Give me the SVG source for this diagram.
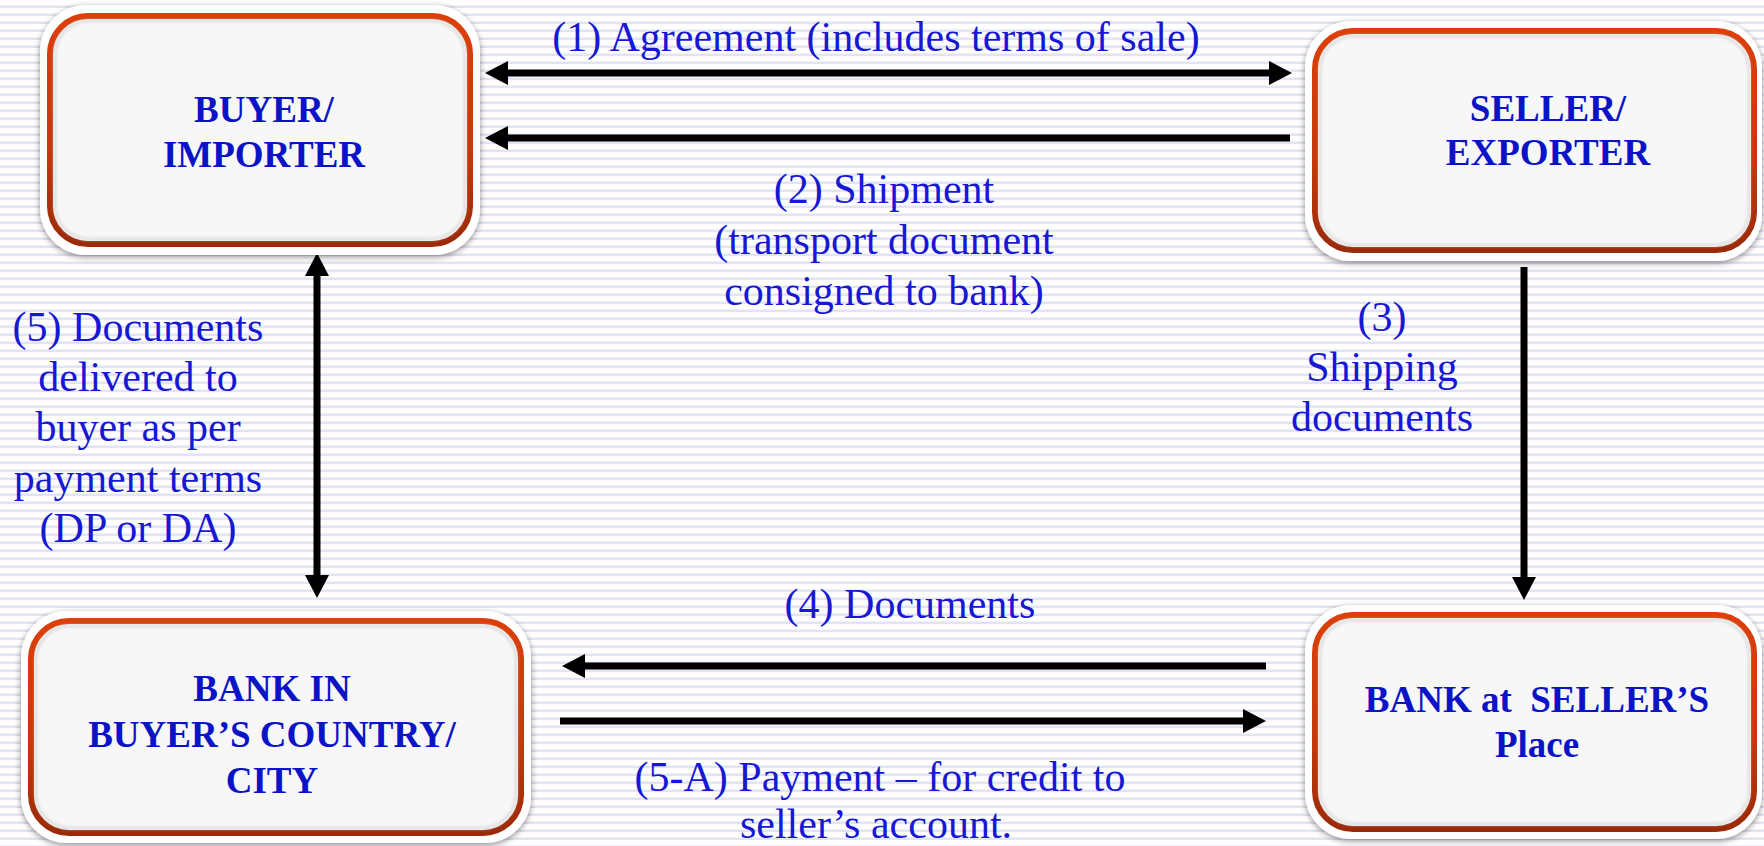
<svg xmlns="http://www.w3.org/2000/svg" width="1764" height="846" viewBox="0 0 1764 846">
  <style>
    .lbl { font-family: "Liberation Serif", "Times New Roman", serif; font-size: 42px; fill: #1818d4; text-anchor: middle; }
    .ttl { font-family: "Liberation Serif", "Times New Roman", serif; font-size: 37px; font-weight: bold; fill: #0b13c6; text-anchor: middle; }
    .ring { fill: #ffffff; filter: url(#shadow); }
    .frame { fill: #f7f7f7; stroke: url(#redGrad); stroke-width: 6; }
    .inner { fill: none; stroke: #d4d4d4; stroke-width: 2; filter: url(#soft); }
    .conn { stroke: #000000; stroke-width: 7; fill: none; }
  </style>
  <defs>
    <pattern id="stripes" x="0" y="0" width="16" height="8" patternUnits="userSpaceOnUse">
      <rect x="0" y="0" width="16" height="8" fill="#ffffff"/>
      <rect x="0" y="5" width="16" height="1" fill="#f1f2f9"/>
      <rect x="0" y="6" width="16" height="2" fill="#e0e4f3"/>
    </pattern>
    <linearGradient id="redGrad" x1="0" y1="0" x2="0" y2="1">
      <stop offset="0" stop-color="#dc3f0a"/>
      <stop offset="0.6" stop-color="#c4380a"/>
      <stop offset="1" stop-color="#9a2a08"/>
    </linearGradient>
    <filter id="shadow" x="-10%" y="-10%" width="120%" height="125%">
      <feGaussianBlur in="SourceAlpha" stdDeviation="3"/>
      <feOffset dx="0" dy="2" result="b"/>
      <feComponentTransfer><feFuncA type="linear" slope="0.45"/></feComponentTransfer>
      <feMerge><feMergeNode/><feMergeNode in="SourceGraphic"/></feMerge>
    </filter>
    <filter id="soft" x="-5%" y="-5%" width="110%" height="110%">
      <feGaussianBlur stdDeviation="1.5"/>
    </filter>
    <marker id="head" markerUnits="userSpaceOnUse" markerWidth="24" markerHeight="24" refX="3" refY="12" orient="auto-start-reverse">
      <path d="M0,0 L23,12 L0,24 z" fill="#000000"/>
    </marker>
  </defs>

  <rect x="0" y="0" width="1764" height="846" fill="url(#stripes)"/>

  <g id="connectors">
    <line class="conn" x1="505" y1="73" x2="1272" y2="73" marker-start="url(#head)" marker-end="url(#head)"/>
    <line class="conn" x1="1290" y1="138" x2="505" y2="138" marker-end="url(#head)"/>
    <line class="conn" x1="1524" y1="267" x2="1524" y2="580" marker-end="url(#head)"/>
    <line class="conn" x1="317" y1="273" x2="317" y2="578" marker-start="url(#head)" marker-end="url(#head)"/>
    <line class="conn" x1="1266" y1="666" x2="582" y2="666" marker-end="url(#head)"/>
    <line class="conn" x1="560" y1="721" x2="1246" y2="721" marker-end="url(#head)"/>
  </g>

  <g id="labels">
    <text class="lbl" x="876" y="51">(1) Agreement (includes terms of sale)</text>
    <text class="lbl" x="884" y="203">(2) Shipment</text>
    <text class="lbl" x="884" y="254">(transport document</text>
    <text class="lbl" x="884" y="305">consigned to bank)</text>
    <text class="lbl" x="1382" y="331">(3)</text>
    <text class="lbl" x="1382" y="381">Shipping</text>
    <text class="lbl" x="1382" y="431">documents</text>
    <text class="lbl" x="138" y="341">(5) Documents</text>
    <text class="lbl" x="138" y="391">delivered to</text>
    <text class="lbl" x="138" y="441">buyer as per</text>
    <text class="lbl" x="138" y="492">payment terms</text>
    <text class="lbl" x="138" y="542">(DP or DA)</text>
    <text class="lbl" x="910" y="618">(4) Documents</text>
    <text class="lbl" x="880" y="791">(5-A) Payment – for credit to</text>
    <text class="lbl" x="876" y="838">seller’s account.</text>
  </g>

  <g id="buyer">
    <rect class="ring" x="40" y="5" width="440" height="250" rx="46"/>
    <rect class="frame" x="50" y="16" width="420" height="228" rx="38"/>
    <rect class="inner" x="55" y="21" width="410" height="218" rx="34"/>
    <text class="ttl" x="264" y="122">BUYER/</text>
    <text class="ttl" x="264" y="167">IMPORTER</text>
  </g>

  <g id="seller">
    <rect class="ring" x="1305" y="21" width="457" height="240" rx="46"/>
    <rect class="frame" x="1315" y="31" width="439" height="219" rx="38"/>
    <rect class="inner" x="1320" y="36" width="429" height="209" rx="34"/>
    <text class="ttl" x="1548" y="121">SELLER/</text>
    <text class="ttl" x="1548" y="165">EXPORTER</text>
  </g>

  <g id="buyer-bank">
    <rect class="ring" x="21" y="611" width="510" height="232" rx="46"/>
    <rect class="frame" x="31" y="621" width="490" height="212" rx="38"/>
    <rect class="inner" x="36" y="626" width="480" height="202" rx="34"/>
    <text class="ttl" x="272" y="701">BANK IN</text>
    <text class="ttl" x="272" y="747">BUYER’S COUNTRY/</text>
    <text class="ttl" x="272" y="793">CITY</text>
  </g>

  <g id="seller-bank">
    <rect class="ring" x="1305" y="605" width="457" height="234" rx="46"/>
    <rect class="frame" x="1315" y="615" width="439" height="214" rx="38"/>
    <rect class="inner" x="1320" y="620" width="429" height="204" rx="34"/>
    <text class="ttl" x="1537" y="712" xml:space="preserve">BANK at  SELLER’S</text>
    <text class="ttl" x="1537" y="757">Place</text>
  </g>
</svg>
